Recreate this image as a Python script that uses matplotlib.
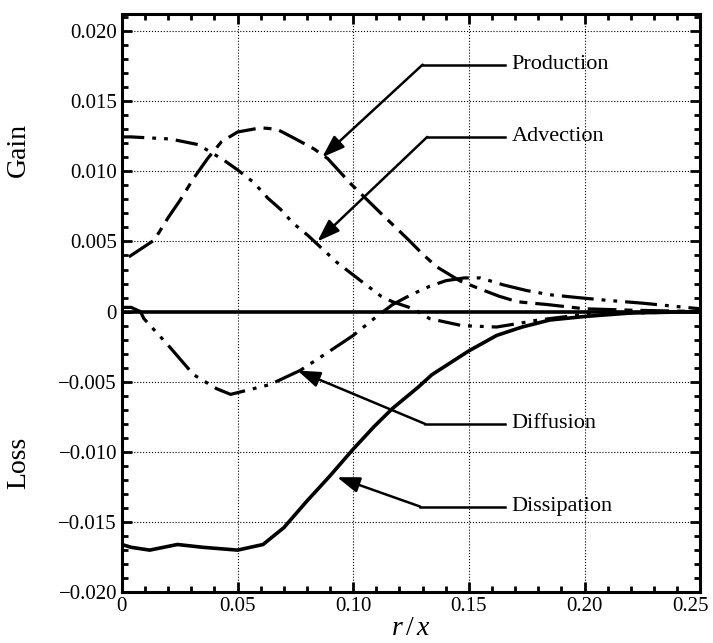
import matplotlib
matplotlib.use("Agg")
import matplotlib.pyplot as plt
import matplotlib.transforms as mtransforms
from matplotlib.ticker import MultipleLocator, FixedLocator

plt.rcParams['font.family'] = ['Liberation Serif', 'DejaVu Serif']
plt.rcParams['mathtext.fontset'] = 'custom'
plt.rcParams['mathtext.it'] = 'Liberation Serif:italic'
plt.rcParams['mathtext.rm'] = 'Liberation Serif'

# Turbulent kinetic energy budget terms across the jet
prod_r = [0.003, 0.014, 0.020, 0.025, 0.031, 0.037, 0.043, 0.050, 0.060, 0.067, 0.074,
          0.083, 0.089, 0.099, 0.112, 0.124, 0.130, 0.136, 0.146, 0.155, 0.163, 0.171,
          0.184, 0.20, 0.22, 0.25]
prod = [0.0039, 0.0051, 0.0067, 0.0079, 0.0095, 0.0109, 0.0121, 0.0128, 0.0131, 0.0130,
        0.0124, 0.0116, 0.0109, 0.0091, 0.0070, 0.0051, 0.0041, 0.0032, 0.0022, 0.0016,
        0.0011, 0.0007, 0.0005, 0.0002, 0.0001, 0.0]

adv_r = [0.0, 0.004, 0.021, 0.033, 0.044, 0.050, 0.057, 0.063, 0.0685, 0.074, 0.0806,
         0.0858, 0.093, 0.104, 0.112, 0.117, 0.126, 0.133, 0.147, 0.162, 0.173, 0.18,
         0.19, 0.20, 0.22, 0.25]
adv = [0.01245, 0.01245, 0.0123, 0.0119, 0.0108, 0.0101, 0.0092, 0.0081, 0.0073, 0.0063,
       0.0054, 0.0046, 0.0035, 0.0021, 0.0011, 0.0007, 0.0002, -0.0005, -0.0010, -0.0011,
       -0.0008, -0.0006, -0.0004, -0.0002, -0.0001, 0.0]

diff_r = [0.0, 0.004, 0.008, 0.0095, 0.020, 0.031, 0.041, 0.047, 0.064, 0.077, 0.090,
          0.100, 0.109, 0.117, 0.125, 0.133, 0.140, 0.148, 0.155, 0.165, 0.175, 0.185,
          0.197, 0.210, 0.225, 0.25]
diff = [0.0003, 0.0003, 0.0, -0.0005, -0.0024, -0.0045, -0.0055, -0.0059, -0.0052,
        -0.0042, -0.0028, -0.0017, -0.0005, 0.0005, 0.0012, 0.0018, 0.0022, 0.0024,
        0.0024, 0.0019, 0.0015, 0.0012, 0.0010, 0.0008, 0.0006, 0.0002]

diss_r = [0.0, 0.004, 0.012, 0.024, 0.035, 0.050, 0.061, 0.070, 0.080, 0.090, 0.100,
          0.109, 0.117, 0.128, 0.134, 0.150, 0.162, 0.173, 0.185, 0.20, 0.22, 0.25]
diss = [-0.0166, -0.0168, -0.0170, -0.0166, -0.0168, -0.0170, -0.0166, -0.0154, -0.0135,
        -0.0117, -0.0098, -0.0082, -0.0069, -0.0054, -0.0045, -0.0028, -0.0017, -0.0011,
        -0.0006, -0.00035, -0.0001, 0.0]

x_ticks = [0, 0.05, 0.10, 0.15, 0.20, 0.25]
x_labels = ['0', '0.05', '0.10', '0.15', '0.20', '0.25']
y_ticks = [-0.020, -0.015, -0.010, -0.005, 0, 0.005, 0.010, 0.015, 0.020]
y_labels = ['\u22120.020', '\u22120.015', '\u22120.010', '\u22120.005', '0',
            '0.005', '0.010', '0.015', '0.020']

# label text, arrow tip, elbow of the leader line
labels = ['Production', 'Advection', 'Diffusion', 'Dissipation']
tips = [(0.0866, 0.0110), (0.0845, 0.0050), (0.0759, -0.0042), (0.093, -0.0118)]
elbows = [(0.130, 0.0176), (0.132, 0.01245), (0.131, -0.0080), (0.129, -0.0139)]
line_end = 0.1655
text_x = 0.1685

fig = plt.figure(figsize=(7.13, 6.43), dpi=100)
ax = fig.add_axes([0.171, 0.079, 0.811, 0.899])

lw = 2.3
ax.plot(prod_r, prod, color='black', lw=lw, linestyle=(0, (9, 2.5, 2.5, 2.5)))
ax.plot(adv_r, adv, color='black', lw=lw, linestyle=(0, (7, 2.5, 1.2, 2.5, 1.2, 2.5)))
ax.plot(diff_r, diff, color='black', lw=lw, linestyle=(0, (10, 2.5, 1.2, 2.5, 1.2, 2.5)))
ax.plot(diss_r, diss, color='black', lw=lw + 0.3, solid_joinstyle='round')
ax.axhline(0, color='black', lw=2.6)

for text, tip, elbow in zip(labels, tips, elbows):
    ax.plot([elbow[0], line_end], [elbow[1], elbow[1]], color='black', lw=1.8)
    ax.annotate('', xy=tip, xytext=elbow,
                arrowprops=dict(arrowstyle='-|>,head_length=0.8,head_width=0.28',
                                color='black', lw=1.8, mutation_scale=17,
                                shrinkA=0, shrinkB=0))
    ax.text(text_x, elbow[1], text, fontsize=16, va='center', ha='left')

ax.set_xlim(0, 0.25)
ax.set_ylim(-0.020, 0.0212)
ax.xaxis.set_major_locator(FixedLocator(x_ticks))
ax.set_xticklabels(x_labels)
ax.yaxis.set_major_locator(FixedLocator(y_ticks))
ax.set_yticklabels(y_labels)
ax.xaxis.set_minor_locator(MultipleLocator(0.01))
ax.yaxis.set_minor_locator(MultipleLocator(0.001))
ax.tick_params(which='both', direction='in', top=True, right=True, labelsize=15,
               width=2, color='black')
ax.tick_params(which='major', length=7)
ax.tick_params(which='minor', length=4)
ax.grid(True, which='major', linestyle=':', color='black', lw=0.8)
for s in ax.spines.values():
    s.set_linewidth(2.2)

# pull the last x label inside the figure edge
last = ax.get_xticklabels()[-1]
last.set_transform(last.get_transform() +
                   mtransforms.ScaledTranslation(-10 / 100, 0, fig.dpi_scale_trans))

ax.set_xlabel('$r\\,/\\,x$', fontsize=20, labelpad=0)
fig.text(0.026, 1 - 150 / 643, 'Gain', rotation=90, fontsize=20, va='center', ha='center')
fig.text(0.026, 1 - 463 / 643, 'Loss', rotation=90, fontsize=20, va='center', ha='center')

fig.savefig('out.png', dpi=100)
